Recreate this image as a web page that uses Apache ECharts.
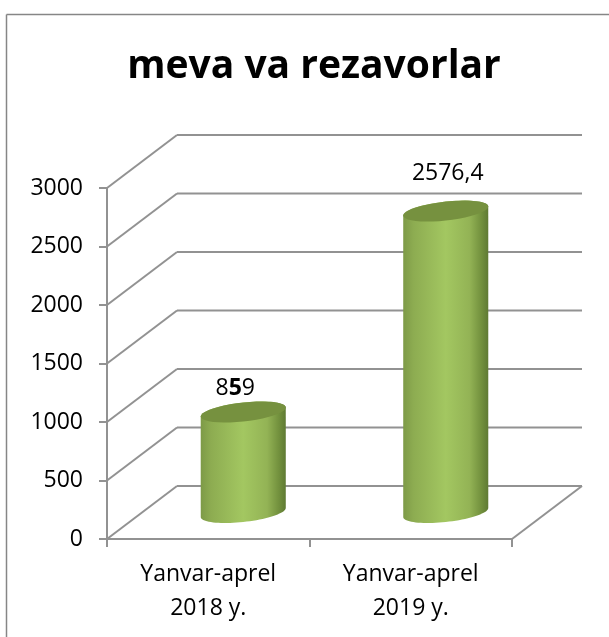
<!DOCTYPE html>
<html>
<head>
<meta charset="utf-8">
<style>
    html, body { margin: 0; padding: 0; background: #fff; }
    #chart { width: 609px; height: 637px; }
</style>
<script src="https://cdn.jsdelivr.net/npm/echarts@6/dist/echarts.min.js"></script>
</head>
<body>
<div id="chart"></div>
<script>
// data
const titleText = 'meva va rezavorlar';
const categories = ['Yanvar-aprel\n2018 y.', 'Yanvar-aprel\n2019 y.'];
const values = [859, 2576.4];
const valueLabels = ['8{b|5}9', '2576,4'];
const yTicks = [0, 500, 1000, 1500, 2000, 2500, 3000];

const FONT = 'Open Sans';
const LINE = '#929292';
// 3d depth of the fake box, in px
const DEPTH_X = 70;
const DEPTH_Y = 53;
const SHEAR = 0.106;
const ELLIPSE_B = 9.5;
// where each label sits relative to its cylinder top
const LABEL_LIFT = [24, 38];
const LABEL_SHIFT = [-8, 2];

const chart = echarts.init(document.getElementById('chart'));

// one point on the tilted ellipse of a cylinder end
function ellipsePoint(cx, cy, a, t) {
    return [cx + a * Math.cos(t), cy - SHEAR * a * Math.cos(t) + ELLIPSE_B * Math.sin(t)];
}

function arc(cx, cy, a, from, to) {
    const pts = [];
    for (let i = 0; i <= 40; i++) {
        pts.push(ellipsePoint(cx, cy, a, from + (to - from) * i / 40));
    }
    return pts;
}

function renderWall(params, api) {
    const p = api.coord([0, api.value(0)]);
    const band = api.size([1, 0])[0];
    const x0 = p[0] - band / 2;
    const x1 = p[0] + band * 1.5;
    const y = p[1];
    const lineStyle = { stroke: LINE, lineWidth: 2, fill: null };
    const children = [
        { type: 'line', shape: { x1: x0, y1: y, x2: x0 + DEPTH_X, y2: y - DEPTH_Y }, style: lineStyle },
        { type: 'line', shape: { x1: x0 + DEPTH_X, y1: y - DEPTH_Y, x2: x1 + DEPTH_X, y2: y - DEPTH_Y }, style: lineStyle }
    ];
    // floor closes on the right side
    if (api.value(0) === 0) {
        children.push({ type: 'line', shape: { x1: x1, y1: y, x2: x1 + DEPTH_X, y2: y - DEPTH_Y }, style: lineStyle });
    }
    return { type: 'group', children: children };
}

function renderCylinder(params, api) {
    const idx = api.value(0);
    const top = api.coord([idx, api.value(1)]);
    const base = api.coord([idx, 0]);
    const a = api.size([1, 0])[0] * 0.21;
    const cx = top[0] + DEPTH_X / 2;
    const topY = top[1] - DEPTH_Y / 2;
    const baseY = base[1] - DEPTH_Y / 2;

    const bodyPts = arc(cx, baseY, a, 0, Math.PI).concat(arc(cx, topY, a, Math.PI, Math.PI * 2));
    const capPts = arc(cx, topY, a, 0, Math.PI * 2);

    return {
        type: 'group',
        children: [
            {
                type: 'polygon',
                shape: { points: bodyPts },
                style: {
                    fill: new echarts.graphic.LinearGradient(0, 0, 1, 0, [
                        { offset: 0, color: '#7d9a47' },
                        { offset: 0.12, color: '#8dac51' },
                        { offset: 0.5, color: '#a3c761' },
                        { offset: 0.78, color: '#93b355' },
                        { offset: 0.92, color: '#72903d' },
                        { offset: 1, color: '#5f7a33' }
                    ])
                }
            },
            {
                type: 'polygon',
                shape: { points: capPts },
                style: { fill: '#76913f' }
            },
            {
                type: 'text',
                style: {
                    x: cx + LABEL_SHIFT[idx],
                    y: topY - LABEL_LIFT[idx],
                    text: valueLabels[idx],
                    align: 'center',
                    verticalAlign: 'middle',
                    fill: '#000',
                    fontFamily: FONT,
                    fontSize: 23,
                    rich: { b: { fontWeight: 'bold', fontSize: 23, fontFamily: FONT, fill: '#000' } }
                }
            }
        ]
    };
}

const option = {
    animation: false,
    backgroundColor: '#fff',
    title: {
        text: titleText,
        left: 309,
        top: 42,
        textAlign: 'center',
        textStyle: { fontFamily: FONT, fontWeight: 'bold', fontSize: 39, color: '#000' }
    },
    // outer frame, only top and left are inside the picture
    graphic: [
        { type: 'line', shape: { x1: 6.5, y1: 14.5, x2: 609, y2: 14.5 }, style: { stroke: '#868686', lineWidth: 1.5 } },
        { type: 'line', shape: { x1: 6.5, y1: 14.5, x2: 6.5, y2: 637 }, style: { stroke: '#868686', lineWidth: 1.5 } }
    ],
    grid: { left: 107, top: 188, width: 405, height: 351 },
    xAxis: {
        type: 'category',
        data: categories,
        axisLine: { lineStyle: { color: LINE, width: 2 } },
        axisTick: { show: true, alignWithLabel: false, length: 8, lineStyle: { color: LINE, width: 2 } },
        axisLabel: { color: '#000', fontFamily: FONT, fontSize: 23, lineHeight: 34, margin: 18 }
    },
    yAxis: {
        type: 'value',
        min: 0,
        max: 3000,
        interval: 500,
        axisLine: { show: true, lineStyle: { color: LINE, width: 2 } },
        axisTick: { show: true, length: 8, lineStyle: { color: LINE, width: 2 } },
        axisLabel: { color: '#000', fontFamily: FONT, fontSize: 23, margin: 24, padding: [3, 0, 0, 0], formatter: v => String(v) },
        splitLine: { show: false }
    },
    series: [
        {
            type: 'custom',
            coordinateSystem: 'cartesian2d',
            encode: { y: 0 },
            data: yTicks.map(v => [v]),
            renderItem: renderWall,
            clip: false,
            silent: true,
            z: 1
        },
        {
            type: 'custom',
            coordinateSystem: 'cartesian2d',
            encode: { x: 0, y: 1 },
            data: values.map((v, i) => [i, v]),
            renderItem: renderCylinder,
            clip: false,
            z: 2
        }
    ]
};

chart.setOption(option);
</script>
</body>
</html>
